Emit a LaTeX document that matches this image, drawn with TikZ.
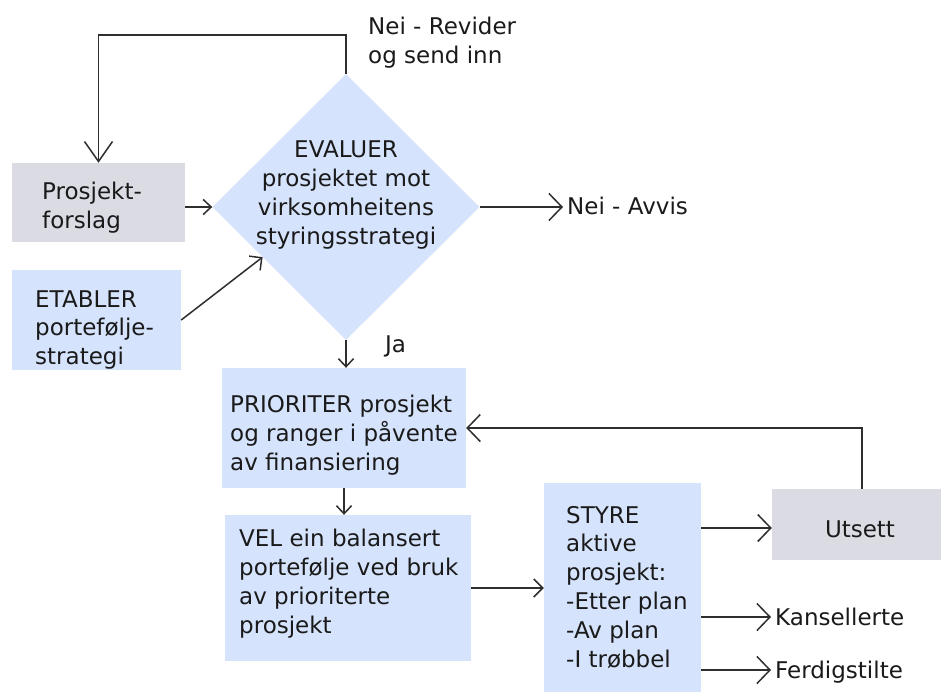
\documentclass[tikz,border=0pt]{standalone}
\usepackage{fontspec}
\setmainfont{DejaVu Sans}
\usetikzlibrary{arrows.meta,shapes.geometric,calc}
\definecolor{boxblue}{HTML}{D5E3FC}
\definecolor{boxgrey}{HTML}{DBDCE3}
\definecolor{ink}{HTML}{1A1A1A}
\definecolor{wire}{HTML}{2E2E2E}
\begin{document}
\begin{tikzpicture}[x=1pt,y=-1pt,
  box/.style={rectangle, inner sep=0pt, draw=none},
  bluebox/.style={box, fill=boxblue},
  greybox/.style={box, fill=boxgrey},
  txt/.style={inner sep=0pt, align=left, text=ink, font=\fontsize{23}{28.8}\selectfont},
  lbl/.style={inner xsep=4pt, inner ysep=0pt, text=ink, font=\fontsize{23}{28.8}\selectfont, text height=16pt, text depth=0pt},
  link/.style={draw=wire, line width=1.5pt},
  hugetip/.style={link, -{Straight Barb[length=20pt,width=28pt]}},
  bigtip/.style={link, -{Straight Barb[length=13pt,width=27pt]}},
  midtip/.style={link, -{Straight Barb[length=9pt,width=18pt]}},
  smalltip/.style={link, -{Straight Barb[length=8pt,width=15pt]}},
]
\clip (0,0) rectangle (941,691);
\fill[white] (0,0) rectangle (941,691);

% shapes
\node[greybox, minimum width=173pt, minimum height=79pt] (prosj) at (98.5,202.5) {};
\node[bluebox, minimum width=169pt, minimum height=100pt] (etab) at (96.5,320) {};
\node[diamond, fill=boxblue, draw=none, inner sep=0pt, minimum width=267pt, minimum height=266pt] (eval) at (346,207) {};
\node[bluebox, minimum width=244pt, minimum height=120pt] (prio) at (344,428) {};
\node[bluebox, minimum width=246pt, minimum height=146pt] (vel) at (348,588) {};
\node[bluebox, minimum width=157pt, minimum height=217pt] (styre) at (622.5,591.5) {};
\node[greybox, minimum width=180pt, minimum height=71pt] (utsett) at (862,524.5) {};

% texts inside the shapes
\node[txt, anchor=west] (prosjtext) at (42,207.5) {Prosjekt-\\forslag};
\node[txt, anchor=west] (etabtext) at (35,330) {ETABLER\\portefølje-\\strategi};
\node[txt, align=center] (evaltext) at (346,195) {EVALUER\\prosjektet mot\\virksomheitens\\styringsstrategi};
\node[txt, anchor=west] (priotext) at (230,435) {PRIORITER prosjekt\\og ranger i påvente\\av finansiering};
\node[txt, anchor=west] (veltext) at (239,583.5) {VEL ein balansert\\portefølje ved bruk\\av prioriterte\\prosjekt};
\node[txt, anchor=west] (styretext) at (566,587) {STYRE\\aktive\\prosjekt:\\-Etter plan\\-Av plan\\-I trøbbel};
\node[txt] (utsetttext) at (860,529) {Utsett};

% free labels
\node[txt, anchor=west] (revider) at (368,43) {Nei - Revider\\og send inn};
\node[lbl, anchor=base west] (avvis) at (563,214) {Nei - Avvis};
\node[lbl, anchor=base west] (ja) at (381,352) {Ja};
\node[lbl, anchor=base west] (kans) at (771,625) {Kansellerte};
\node[lbl, anchor=base west] (ferd) at (771,678) {Ferdigstilte};

% connectors
\coordinate (utin) at ($(utsett.west)+(0,3.5)$);
\draw[hugetip] (eval.north) -- ++(0,-39) -| (prosj.north);
\draw[smalltip] (prosj.east |- eval.west) -- (eval.west);
\draw[midtip] (etab.east) -- (eval.211);
\draw[bigtip] (eval.east) -- (eval.east -| avvis.west);
\draw[smalltip] (eval.south) -- (eval.south |- prio.north);
\draw[smalltip] (prio.south) -- (prio.south |- vel.north);
\draw[midtip] (vel.east) -- (vel.east -| styre.west);
\draw[bigtip] (styre.east |- utin) -- (utin);
\draw[bigtip] (utsett.north) |- (prio.east);
\draw[bigtip] (styre.east |- kans.west) -- (kans.west);
\draw[bigtip] (styre.east |- ferd.west) -- (ferd.west);
\end{tikzpicture}
\end{document}
